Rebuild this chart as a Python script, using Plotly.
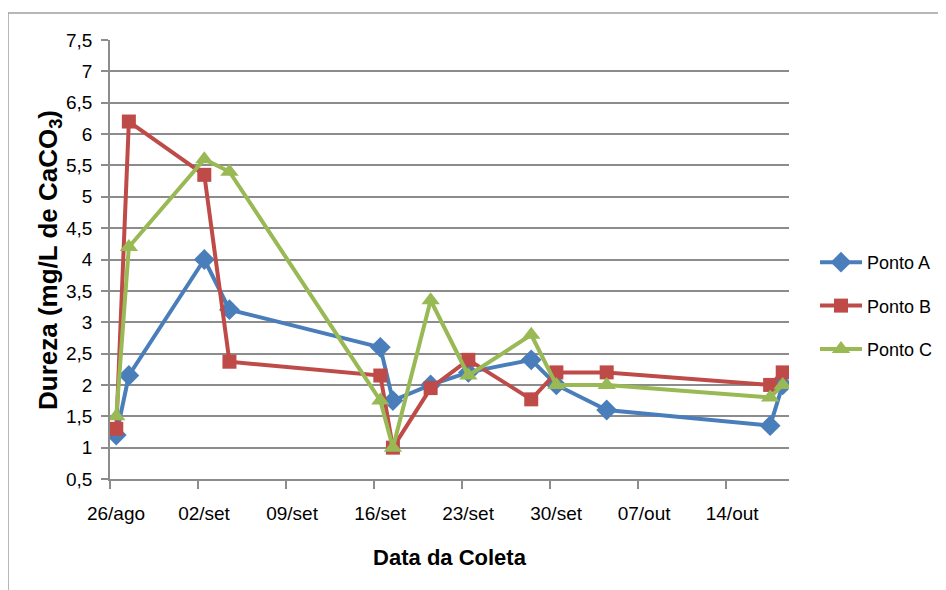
import plotly.graph_objects as go
import pandas as pd

# Collection dates (Excel date axis places each point in the middle of its day)
datas = ["2012-08-26", "2012-08-27", "2012-09-02", "2012-09-04", "2012-09-16",
         "2012-09-17", "2012-09-20", "2012-09-23", "2012-09-28", "2012-09-30",
         "2012-10-04", "2012-10-17", "2012-10-18"]
ponto_a = [1.2, 2.15, 4.0, 3.2, 2.6, 1.75, 2.0, 2.2, 2.4, 2.0, 1.6, 1.35, 2.0]
ponto_b = [1.3, 6.2, 5.35, 2.37, 2.15, 1.0, 1.95, 2.4, 1.77, 2.2, 2.2, 2.0, 2.2]
ponto_c = [1.5, 4.2, 5.6, 5.4, 1.75, 1.0, 3.35, 2.15, 2.8, 2.0, 2.0, 1.8, 2.0]

tick_datas = ["2012-08-26", "2012-09-02", "2012-09-09", "2012-09-16",
              "2012-09-23", "2012-09-30", "2012-10-07", "2012-10-14"]
tick_rotulos = ["26/ago", "02/set", "09/set", "16/set", "23/set", "30/set", "07/out", "14/out"]
y_ticks = [0.5, 1, 1.5, 2, 2.5, 3, 3.5, 4, 4.5, 5, 5.5, 6, 6.5, 7, 7.5]

x_pts = pd.to_datetime(datas) + pd.Timedelta(hours=12)

series = [
    ("Ponto A", ponto_a, "#4A7EBB", "diamond", 16),
    ("Ponto B", ponto_b, "#BE4B48", "square", 14),
    ("Ponto C", ponto_c, "#98B954", "triangle-up", 16),
]

FONT = "Liberation Sans, Arial, sans-serif"

fig = go.Figure()
for nome, vals, cor, simb, tam in series:
    fig.add_trace(go.Scatter(
        x=x_pts, y=vals, name=nome, mode="lines+markers",
        line=dict(color=cor, width=4),
        marker=dict(symbol=simb, size=tam, color=cor),
        legendgroup=nome,
    ))

# the page has an 8px body margin, so figure coords = page coords - 8
OFF = 8
L, R, T, B = 102, 165, 32, 119
W, H = 946, 590
pw, ph = W - L - R, H - T - B

def px_x(p):
    return (p - OFF - L) / pw

def px_y(p):
    return (H - B - (p - OFF)) / ph

fig.update_layout(
    width=W, height=H,
    margin=dict(l=L, r=R, t=T, b=B, autoexpand=False),
    paper_bgcolor="white", plot_bgcolor="white",
    separators=",.",
    showlegend=True,
    legend=dict(
        x=px_x(815), xanchor="left", y=px_y(306), yanchor="middle",
        font=dict(family=FONT, size=18, color="#000000"),
        tracegroupgap=17, itemwidth=42, bgcolor="rgba(0,0,0,0)",
    ),
    xaxis=dict(
        type="date", automargin=False,
        range=[pd.Timestamp("2012-08-26"), pd.Timestamp("2012-10-19")],
        tickvals=pd.to_datetime(tick_datas), ticktext=tick_rotulos,
        showgrid=False, showline=True, linecolor="#8C8C8C", linewidth=1.5,
        ticks="outside", ticklen=8, tickcolor="#8C8C8C", tickwidth=1.5,
        tickfont=dict(family=FONT, size=19, color="#000000"),
        title=dict(text="<b>Data da Coleta</b>", standoff=27,
                   font=dict(family=FONT, size=22, color="#000000")),
        zeroline=False, ticklabelstandoff=8, ticklabelshift=6,
    ),
    yaxis=dict(
        range=[0.5, 7.5], tickvals=y_ticks, automargin=False,
        showgrid=True, gridcolor="#8C8C8C", gridwidth=1.5,
        showline=True, linecolor="#8C8C8C", linewidth=1.5,
        ticks="outside", ticklen=7, tickcolor="#8C8C8C", tickwidth=1.5,
        tickfont=dict(family=FONT, size=19, color="#000000"),
        zeroline=False, ticklabelstandoff=5,
    ),
    annotations=[dict(
        text="<b>Dureza (mg/L de CaCO<sub>3</sub>)</b>", textangle=-90,
        xref="paper", yref="paper", x=px_x(50), y=px_y(260),
        xanchor="center", yanchor="middle", showarrow=False,
        font=dict(family=FONT, size=26, color="#000000"),
    )],
    shapes=[dict(type="rect", xref="paper", yref="paper",
                 x0=px_x(8), x1=px_x(970), y0=px_y(620), y1=px_y(13),
                 line=dict(color="#A0A0A0", width=1.5), fillcolor="rgba(0,0,0,0)",
                 layer="below")],
)

fig.write_html("out.html")
